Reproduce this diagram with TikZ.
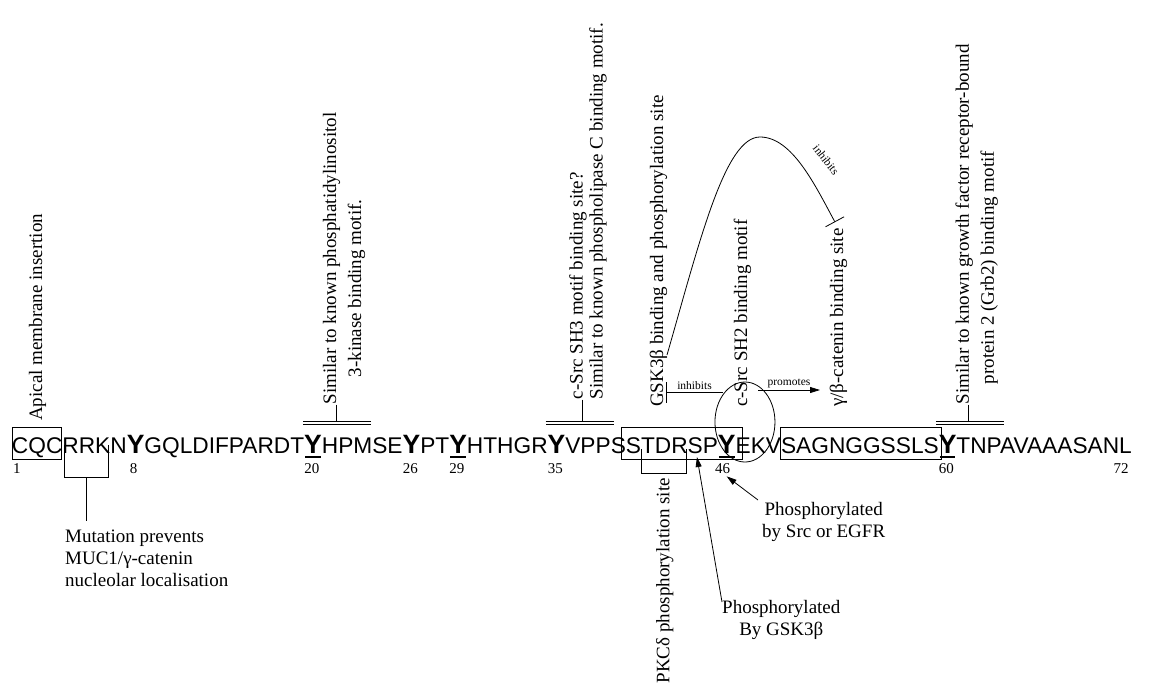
\documentclass[tikz,border=0pt]{standalone}
\usepackage{fontspec}
\setmainfont{Liberation Serif}
\newfontfamily\seqfont{Liberation Sans}
\usetikzlibrary{arrows.meta,shapes.geometric,calc}
\begin{document}
\begin{tikzpicture}[x=1pt,y=-1pt,
  seq/.style={inner sep=0pt, outer sep=0pt, anchor=base west, font=\seqfont\fontsize{22.7}{26}\selectfont},
  tyr/.style={seq, font=\seqfont\bfseries\fontsize{26.5}{30}\selectfont},
  lab/.style={font=\fontsize{19}{22}\selectfont, inner sep=0pt},
  rotlab/.style={lab, rotate=90, anchor=base west},
  num/.style={font=\fontsize{15}{17}\selectfont, inner sep=0pt, anchor=base west},
  small/.style={font=\fontsize{11.5}{13}\selectfont, inner sep=1.5pt},
  ln/.style={line width=0.8pt},
  dbl/.style={double, double distance=2.2pt, line width=0.7pt},
  uline/.style={line width=2.4pt},
  arr/.style={line width=0.8pt, -{Triangle[length=10pt,width=6pt]}},
  inh/.style={line width=0.8pt, -{Bar[width=21pt]}},
]
\useasboundingbox (0,0) rectangle (1149,689);

% ---------------- sequence ----------------
\node[seq] (cqc) at (12,453) {CQC};
\node[seq] (rrkn) at (cqc.base east) {RRKN};
\node[tyr] (y8) at (rrkn.base east) {Y};
\node[seq] (s9) at (y8.base east) {GQLDIFPARDT};
\node[tyr] (y20) at (s9.base east) {Y};
\node[seq] (s21) at (y20.base east) {HPMSE};
\node[tyr] (y26) at (s21.base east) {Y};
\node[seq] (s27) at (y26.base east) {PT};
\node[tyr] (y29) at (s27.base east) {Y};
\node[seq] (s30) at (y29.base east) {HTHGR};
\node[tyr] (y35) at (s30.base east) {Y};
\node[seq] (s36) at (y35.base east) {VPPS};
\node[seq] (s40) at (s36.base east) {STDRSP};
\node[tyr] (y46) at (s40.base east) {Y};
\node[seq] (s47) at (y46.base east) {EKV};
\node[seq] (s50) at (s47.base east) {SAGNGGSSLS};
\node[tyr] (y60) at (s50.base east) {Y};
\node[seq] (s61) at (y60.base east) {TNPAVAAASANL};

% underlines
\foreach \n in {y20,y29,y46,y60}
  \draw[uline] ($(\n.base west)+(1,4)$) -- ($(\n.base east)+(-1,4)$);

% numbers
\node[num] (n1) at ($(cqc.base west)+(1,20)$) {1};
\node[num] (n8) at ($(y8.base west)+(3,20)$) {8};
\node[num] (n20) at ($(y20.base west)+(0,20)$) {20};
\node[num] (n26) at ($(y26.base west)+(0,20)$) {26};
\node[num] (n29) at ($(y29.base west)+(0,20)$) {29};
\node[num] (n35) at ($(y35.base west)+(0,20)$) {35};
\node[num] (n46) at ($(y46.base west)+(-3,20)$) {46};
\node[num] (n60) at ($(y60.base west)+(0,20)$) {60};
\node[num, anchor=base east] (n72) at ($(s61.base east)+(-3,20)$) {72};

% boxes
\coordinate (bt) at (0,427);
\coordinate (bb) at (0,459);
\draw[ln] (cqc.west |- bt) rectangle ([xshift=-1pt]cqc.east |- bb);
\draw[ln] ([xshift=-4pt]s40.west |- bt) rectangle ([xshift=7pt]y46.east |- bb);
\draw[ln] ([xshift=-1pt]s50.west |- bt) rectangle ([xshift=3pt]s50.east |- bb);

% circle round Y46
\node[draw, ellipse, ln, minimum width=60pt, minimum height=80pt, inner sep=0pt] (circ)
  at ($(y46.base west)+(27,-31)$) {};

% ---------------- Apical ----------------
\node[rotlab] (apical) at (42,421) {Apical membrane insertion};

% ---------------- RRK bracket ----------------
\coordinate (rk1) at ($(rrkn.base west)+(2,-8)$);
\coordinate (rk2) at ($(rrkn.base west)+(46,-8)$);
\coordinate (rkm) at ($(rk1)!0.5!(rk2)+(0,32)$);
\draw[ln] (rk1) -- ++(0,32) -| (rk2);
\node[lab, align=left, anchor=north west] (mut) at (65,530)
  {Mutation prevents\\MUC1/γ-catenin\\nucleolar localisation};
\draw[ln] (rkm) -- ([yshift=9pt]rkm |- mut.north);

% ---------------- Y20 ----------------
\draw[dbl] ($(y20.base west)+(-1,-30)$) -- ++(68,0);
\coordinate (d20) at ($(y20.base west)+(32,-31.5)$);
\node[rotlab] (pi3k) at ($(d20)+(0,-17)$) {Similar to known phosphatidylinositol};
\node[rotlab] (pi3kb) at ($(pi3k.base west)+(25,-27)$) {3-kinase binding motif.};
\draw[ln] (pi3k.base west) -- (d20);

% ---------------- Y35 ----------------
\draw[dbl] ($(y35.base west)+(-2,-30)$) -- ++(68,0);
\coordinate (d35) at ($(y35.base west)+(35,-31.5)$);
\node[rotlab] (sh3) at ($(d35)+(0,-22)$) {c-Src SH3 motif binding site?};
\node[rotlab] (plc) at ($(sh3.base west)+(20,0)$) {Similar to known phospholipase C binding motif.};
\draw[ln] (sh3.base west) -- (d35);

% ---------------- Y60 ----------------
\draw[dbl] ($(y60.base west)+(-3,-30)$) -- ++(68,0);
\coordinate (d60) at ($(y60.base west)+(30,-31.5)$);
\node[rotlab] (grb) at ($(d60)+(0,-17)$) {Similar to known growth factor receptor-bound};
\node[rotlab] (grbb) at ($(grb.base west)+(25,-20)$) {protein 2 (Grb2) binding motif};
\draw[ln] (grb.base west) -- (d60);

% ---------------- GSK3b / SH2 / catenin ----------------
\node[rotlab] (gsk) at (663,407) {GSK3β binding and phosphorylation site};
\node[rotlab] (sh2) at (747,407) {c-Src SH2 binding motif};
\node[rotlab] (gbc) at (843,407) {γ/β-catenin binding site};

\draw[inh] ($(sh2.base west)+(-24,-15)$) -- ($(gsk.base west)+(3,-15)$)
  node[midway, above, small] {inhibits};
\draw[arr] ($(sh2.base west)+(11,-17)$) -- ($(gbc.base west)+(-23,-17)$)
  node[midway, above, small] {promotes};

\coordinate (arcS) at ($(gsk.base west)+(4,-52)$);
\coordinate (arcE) at ($(gbc.base east)+(-8,-6)$);
\draw[inh] (arcS) .. controls (700,240) and (725,137) .. (760,137)
  .. controls (792,137) and (815,185) .. (arcE);
\node[small, rotate=-52] (arclab) at (826,160) {inhibits};

% ---------------- PKC bracket ----------------
\coordinate (pk1) at ($(s40.base west)+(16,-4)$);
\coordinate (pk2) at ($(s40.base west)+(61,-4)$);
\draw[ln] (pk1) -- ++(0,24) -| (pk2);
\node[lab, rotate=90, anchor=base east] (pkc) at ($(pk1)!0.5!(pk2)+(5,29)$) {PKCδ phosphorylation site};

% ---------------- phosphorylation arrows ----------------
\node[lab, align=center, anchor=north west] (pgsk) at (722,600) {Phosphorylated\\By GSK3β};
\coordinate (gsktip) at ($(s40.base east)+(-21,4)$);
\draw[arr] ([yshift=-2pt]pgsk.north west) -- (gsktip);

\node[lab, align=center, anchor=north west] (psrc) at (762,502) {Phosphorylated\\by Src or EGFR};
\coordinate (srctip) at ($(n46.south)+(4,3)$);
\draw[arr] ([xshift=-4pt,yshift=2pt]psrc.north west) -- (srctip);
\end{tikzpicture}
\end{document}
